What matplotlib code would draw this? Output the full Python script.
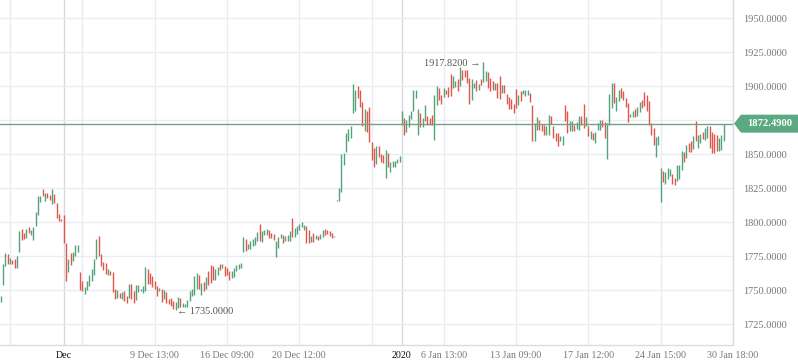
import matplotlib
matplotlib.use("Agg")
import matplotlib.pyplot as plt
from matplotlib.patches import Polygon

# ---------------- data ----------------
bar_high = [
    1745.8, 1769.1, 1777.2, 1776.5, 1773.5, 1772.5, 1772.8, 1774.8, 1793.6, 1795.1,
    1791.9, 1795.1, 1796.1, 1794.4, 1796.1, 1807.8, 1818.9, 1819.6, 1824.3, 1821.3,
    1821.3, 1820.1, 1824.5, 1820.6, 1814.0, 1805.9, 1802.5, 1805.4, 1784.6, 1773.0,
    1777.2, 1777.9, 1783.3, 1783.3, 1763.0, 1756.9, 1752.0, 1756.4, 1761.3, 1765.4,
    1773.0, 1787.7, 1789.5, 1776.5, 1770.6, 1770.0, 1765.7, 1764.2, 1763.2, 1751.0,
    1750.2, 1747.8,
    1748.3, 1749.0, 1745.9, 1754.4, 1754.4, 1749.0, 1753.6, 1753.9, 1750.5, 1753.2,
    1767.0, 1765.3, 1762.9, 1760.4, 1756.8, 1753.2, 1751.5, 1750.7, 1750.0, 1748.3,
    1743.4, 1744.2, 1742.2, 1741.0, 1744.7, 1744.2, 1740.3, 1739.8, 1742.7, 1749.0,
    1750.7, 1760.4, 1762.9, 1761.2, 1754.9, 1756.3, 1759.7, 1764.1, 1768.4, 1767.7,
    1765.3, 1767.0, 1768.9, 1768.9, 1767.7, 1766.5, 1764.1, 1764.1, 1766.5, 1768.4,
    1768.9, 1770.1, 1788.8,
    1787.3, 1784.1, 1786.5, 1787.7, 1789.0, 1792.9, 1798.3, 1793.4, 1794.6, 1795.3,
    1794.1, 1792.2, 1791.4, 1786.5, 1789.0, 1791.4, 1790.9, 1789.7, 1790.9, 1793.4,
    1803.2, 1795.8, 1797.1, 1798.3, 1800.0, 1797.8, 1797.5, 1793.9, 1789.7, 1792.2,
    1790.4, 1789.7, 1791.4, 1793.9, 1795.3, 1794.6, 1793.4, 1792.2, 1789.6, 1816.2,
    1824.8, 1850.2, 1851.0, 1865.7, 1868.9, 1870.6, 1901.7, 1897.5, 1900.0, 1897.5,
    1888.5, 1883.5,
    1881.5, 1884.5, 1858.9, 1854.4, 1856.4, 1855.7, 1850.0, 1849.5, 1853.2, 1850.7,
    1844.6, 1845.1, 1845.1, 1846.6, 1849.0, 1882.0, 1876.6, 1875.4, 1879.1, 1881.5,
    1897.5, 1897.5, 1883.5, 1880.3, 1876.6, 1886.5, 1877.8, 1876.6, 1878.6, 1893.8,
    1900.0, 1898.8, 1893.3, 1898.8, 1897.5, 1899.3, 1909.1, 1907.4, 1904.2, 1905.7,
    1914.0, 1912.3, 1912.3, 1912.3, 1906.2, 1905.7, 1902.5, 1904.9, 1901.7, 1905.7,
    1917.82,
    1911.0, 1910.5, 1906.1, 1903.7, 1902.5, 1902.5, 1907.4, 1901.2, 1901.2, 1894.4,
    1891.9, 1890.9, 1887.0, 1898.3, 1893.4, 1896.8, 1897.5, 1897.5, 1897.5, 1895.1,
    1886.5, 1873.0, 1877.2, 1875.5, 1872.3, 1871.3, 1870.6, 1879.2, 1878.4, 1870.6,
    1865.7, 1865.7, 1863.2, 1863.7, 1886.0, 1881.6, 1874.3, 1874.3, 1871.8, 1873.8,
    1877.9, 1877.9, 1887.0, 1877.2, 1870.6, 1866.9, 1865.7, 1866.4, 1873.0, 1875.5,
    1875.5, 1874.0, 1873.0,
    1894.3, 1902.5, 1902.5, 1891.9, 1897.5, 1898.8, 1896.3, 1891.4, 1887.7, 1879.6,
    1882.1, 1883.5, 1884.5, 1888.5, 1890.2, 1895.8, 1893.4, 1888.9, 1873.0, 1869.3,
    1862.9, 1863.4, 1839.8, 1837.8, 1836.9, 1839.8, 1839.3, 1835.4, 1832.4, 1842.3,
    1841.8, 1852.1, 1851.6, 1857.0, 1858.2, 1859.5, 1863.1, 1874.7, 1864.4, 1864.9,
    1866.3, 1869.3, 1870.5, 1870.5, 1866.3, 1864.9, 1863.9, 1861.9, 1864.4, 1872.49,
]

bar_low = [
    1741.5, 1753.4, 1767.4, 1769.1, 1769.1, 1769.1, 1766.2, 1766.2, 1778.4, 1787.0,
    1787.7, 1788.7, 1791.9, 1790.7, 1787.0, 1797.5, 1805.4, 1814.7, 1818.9, 1815.7,
    1817.6, 1816.4, 1813.2, 1814.0, 1803.4, 1801.0, 1800.5, 1784.6, 1756.9, 1763.0,
    1768.6, 1771.1, 1774.8, 1778.4, 1750.2, 1749.0, 1747.3, 1750.2, 1752.7, 1756.9,
    1761.3, 1773.0, 1774.8, 1767.4, 1765.0, 1761.8, 1761.3, 1761.3, 1748.5, 1743.6,
    1744.1, 1744.1,
    1743.4, 1742.2, 1740.5, 1744.2, 1743.4, 1740.5, 1742.7, 1748.3, 1749.0, 1747.6,
    1749.0, 1754.4, 1754.4, 1752.4, 1750.7, 1745.9, 1749.0, 1741.0, 1743.4, 1740.3,
    1739.8, 1738.6, 1736.2, 1735.0, 1736.9, 1737.9, 1737.9, 1737.9, 1737.9, 1741.7,
    1745.9, 1746.6, 1750.7, 1750.7, 1746.6, 1749.0, 1750.7, 1753.9, 1754.9, 1757.3,
    1757.3, 1761.2, 1764.6, 1766.0, 1760.4, 1761.2, 1757.3, 1758.7, 1759.7, 1764.1,
    1765.3, 1766.0, 1778.2,
    1778.7, 1780.6, 1780.6, 1782.4, 1783.1, 1786.5, 1786.0, 1785.3, 1790.4, 1790.4,
    1788.0, 1788.5, 1786.8, 1774.3, 1781.1, 1788.0, 1784.8, 1786.0, 1786.0, 1786.0,
    1789.0, 1789.0, 1791.4, 1793.9, 1796.3, 1793.9, 1784.8, 1784.8, 1785.3, 1785.3,
    1787.3, 1786.8, 1787.3, 1789.0, 1790.9, 1791.4, 1789.7, 1788.0, 1789.0, 1815.4,
    1815.4, 1822.3, 1841.9, 1851.7, 1860.0, 1862.0, 1880.4, 1881.6, 1891.4, 1884.6,
    1871.0, 1867.0,
    1866.3, 1858.9, 1845.8, 1840.9, 1842.9, 1848.3, 1844.6, 1843.3, 1832.3, 1840.9,
    1836.7, 1840.9, 1840.9, 1843.3, 1844.1, 1871.2, 1864.3, 1866.7, 1870.4, 1876.1,
    1882.0, 1891.4, 1864.3, 1869.7, 1870.4, 1874.1, 1871.2, 1871.7, 1871.2, 1860.6,
    1886.5, 1890.1, 1886.9, 1891.9, 1894.3, 1891.9, 1892.6, 1898.8, 1899.3, 1896.8,
    1900.0, 1904.9, 1906.7, 1902.5, 1886.9, 1890.1, 1898.8, 1896.8, 1897.5, 1900.7,
    1903.2,
    1904.0, 1898.8, 1896.3, 1897.5, 1897.5, 1891.4, 1890.9, 1895.1, 1895.1, 1887.0,
    1883.6, 1883.3, 1880.4, 1884.1, 1886.0, 1889.0, 1894.4, 1892.6, 1893.9, 1888.5,
    1859.6, 1859.6, 1868.1, 1868.1, 1866.9, 1864.5, 1864.0, 1864.5, 1872.3, 1862.0,
    1859.6, 1855.9, 1859.6, 1856.6, 1874.8, 1865.7, 1866.9, 1866.9, 1866.9, 1868.9,
    1868.1, 1871.8, 1869.4, 1870.6, 1863.2, 1861.5, 1860.8, 1858.3, 1868.1, 1868.1,
    1869.9, 1861.7, 1846.7,
    1871.7, 1884.0, 1887.7, 1881.6, 1888.9, 1891.4, 1890.2, 1884.5, 1873.7, 1877.1,
    1877.1, 1877.1, 1877.9, 1881.1, 1884.0, 1885.3, 1882.1, 1871.7, 1864.4, 1857.0,
    1847.7, 1856.8, 1815.2, 1829.5, 1828.0, 1832.0, 1833.7, 1828.0, 1827.5, 1830.5,
    1832.0, 1838.6, 1844.2, 1847.2, 1851.6, 1851.6, 1854.1, 1859.5, 1854.6, 1858.2,
    1861.4, 1860.7, 1861.9, 1854.6, 1850.9, 1850.9, 1852.6, 1852.6, 1853.3, 1860.0,
]

# 1 = rising bar (green), 0 = falling bar (red)
bar_up = [
    1, 1, 1, 0, 1, 0, 0, 1, 1, 0, 0, 1, 0, 1, 1, 1, 1, 1, 0, 1,
    0, 0, 1, 0, 0, 0, 0, 0, 0, 1, 0, 1, 1, 1, 0, 0, 1, 1, 1, 1,
    1, 1, 0, 0, 0, 0, 1, 0, 0, 0, 1, 0,
    1, 0, 0, 1, 0, 0, 1, 1, 1, 1, 1, 0, 0, 0, 0, 0, 1, 0, 1, 0,
    0, 0, 0, 1, 1, 0, 1, 1, 1, 1, 1, 1, 1, 0, 1, 0, 1, 0, 0, 0,
    1, 1, 0, 1, 0, 0, 0, 1, 1, 1, 1, 1, 1,
    0, 1, 1, 1, 1, 1, 0, 1, 1, 1, 0, 0, 0, 1, 1, 1, 0, 1, 1, 1,
    0, 1, 1, 1, 1, 1, 0, 0, 1, 0, 1, 0, 1, 1, 0, 0, 0, 0, 1, 1,
    1, 1, 1, 1, 1, 1, 1, 1, 0, 0, 0, 1,
    0, 0, 0, 0, 1, 0, 0, 0, 1, 0, 1, 1, 1, 1, 1, 1, 0, 1, 1, 1,
    1, 1, 1, 0, 1, 1, 0, 0, 0, 1, 1, 0, 0, 1, 0, 0, 0, 1, 1, 0,
    1, 0, 0, 0, 0, 1, 1, 0, 1, 0, 1,
    1, 0, 0, 0, 1, 0, 0, 1, 0, 0, 0, 0, 0, 0, 1, 0, 1, 1, 1, 0,
    0, 1, 1, 0, 0, 0, 1, 1, 0, 0, 0, 0, 1, 1, 0, 0, 1, 1, 0, 1,
    1, 0, 0, 1, 0, 1, 0, 1, 1, 1, 0, 0, 1,
    1, 1, 0, 1, 1, 0, 0, 0, 0, 1, 1, 0, 1, 1, 0, 0, 0, 0, 0, 0,
    1, 1, 1, 0, 1, 1, 1, 0, 0, 1, 1, 1, 0, 1, 0, 0, 1, 0, 1, 1,
    0, 1, 1, 0, 0, 0, 0, 1, 1, 1,
]

last_price = 1872.49

x_tick_slots = [4, 35, 66, 97, 128, 159, 190, 221, 252, 283, 314]
x_tick_labels = ["", "", "9 Dec 13:00", "16 Dec 09:00", "20 Dec 12:00", "",
                 "6 Jan 13:00", "13 Jan 09:00", "17 Jan 12:00", "24 Jan 15:00",
                 "30 Jan 18:00"]
boundary_slots = [27, 172]
boundary_labels = ["Dec", "2020"]
y_ticks = [1725, 1750, 1775, 1800, 1825, 1850, 1875, 1900, 1925, 1950]

# ---------------- styling ----------------
GREEN = "#53a27a"
RED = "#e2554b"
GRID = "#e9ecf0"
GRID_DARK = "#d6dade"
TXT = "#777777"
FONT = ["Liberation Serif", "DejaVu Serif"]

W, H = 798, 363
fig = plt.figure(figsize=(W / 100, H / 100), dpi=100)
ax = fig.add_axes([0, 18 / H, 733 / W, 345 / H])

n = len(bar_high)
xs = list(range(n))
colors = [GREEN if u else RED for u in bar_up]
ax.vlines(xs, bar_low, bar_high, colors=colors, linewidth=1.0, zorder=3)

ax.set_xlim(-0.3, 313.9)
ax.set_ylim(1709.6, 1963.5)

# grid
for s in x_tick_slots:
    ax.axvline(s, color=GRID, linewidth=1.0, zorder=1)
for s in boundary_slots:
    ax.axvline(s, color=GRID_DARK, linewidth=1.0, zorder=1)
for v in y_ticks:
    ax.axhline(v, color=GRID, linewidth=1.0, zorder=1)

# x tick labels
all_slots = x_tick_slots + boundary_slots
all_labels = x_tick_labels + boundary_labels
ax.set_xticks(all_slots)
ax.set_xticklabels(all_labels)
for lbl, txt in zip(ax.get_xticklabels(), all_labels):
    lbl.set_fontfamily(FONT)
    lbl.set_fontsize(7.2)
    lbl.set_color("#111111" if txt in boundary_labels else TXT)
ax.tick_params(axis="x", length=0, pad=4)

# y tick labels on the right (the 1875 label sits under the price box)
ax.yaxis.tick_right()
ax.set_yticks(y_ticks)
ax.set_yticklabels(["" if abs(v - last_price) < 8 else f"{v:.4f}" for v in y_ticks])
for lbl in ax.get_yticklabels():
    lbl.set_fontfamily(FONT)
    lbl.set_fontsize(7.5)
    lbl.set_color(TXT)
ax.tick_params(axis="y", length=0, pad=7)

for side in ("top", "left"):
    ax.spines[side].set_visible(False)
for side in ("right", "bottom"):
    ax.spines[side].set_color("#d9dde1")
    ax.spines[side].set_linewidth(1.0)

# last price line
ax.axhline(last_price, color="#72a088", linewidth=1.0, zorder=4)

# price label box on the right axis
fig.canvas.draw()
yd = ax.transData.transform((0, last_price))[1]
x0 = ax.transAxes.transform((1, 0))[0]
hh = 9.0
pts = [(x0 + 1, yd), (x0 + 8, yd + hh), (W, yd + hh), (W, yd - hh), (x0 + 8, yd - hh)]
pts_fig = [(px / W, py / H) for px, py in pts]
fig.add_artist(Polygon(pts_fig, closed=True, transform=fig.transFigure,
                       facecolor="#5aa980", edgecolor="none", zorder=5))
fig.text((x0 + 9 + (W - x0 - 9) / 2) / W, yd / H, f"{last_price:.4f}",
         color="white", fontsize=7.6, fontweight="bold", family=FONT,
         ha="center", va="center", zorder=6)

# max / min annotations
imax = max(range(n), key=lambda i: bar_high[i])
imin = min(range(n), key=lambda i: bar_low[i])
ax.annotate(f"{bar_high[imax]:.4f} \u2192", xy=(imax, bar_high[imax]),
            xytext=(-2, -1), textcoords="offset points", ha="right", va="center",
            fontsize=7.4, color="#555555", family=FONT + ["DejaVu Sans"], zorder=6)
ax.annotate(f"\u2190 {bar_low[imin]:.4f}", xy=(imin, bar_low[imin]),
            xytext=(1, -1), textcoords="offset points", ha="left", va="center",
            fontsize=7.4, color="#555555", family=FONT + ["DejaVu Sans"], zorder=6)

fig.savefig("out.png", dpi=100, facecolor="white")
